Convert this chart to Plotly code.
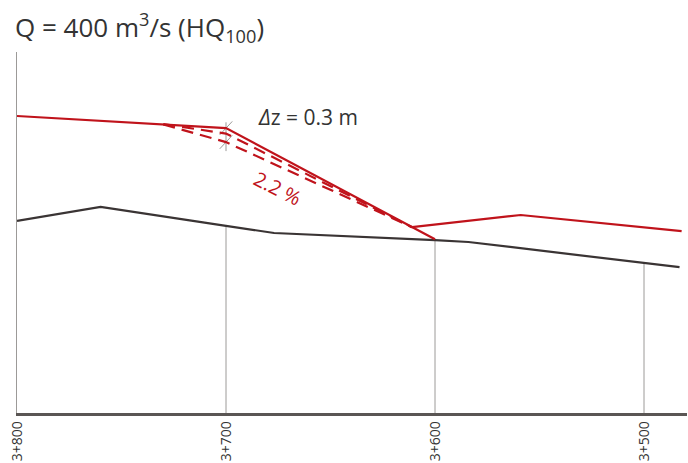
import numpy as np
import plotly.graph_objects as go

# ---- data (chainage in m, elevation in m, relative datum) ----
bed_ch = [3800, 3760, 3700, 3677, 3600, 3584, 3483]
bed_z = [4.27, 4.58, 4.16, 4.00, 3.84, 3.80, 3.24]

ws_up_ch = [3800, 3700, 3600]
ws_up_z = [6.60, 6.33, 3.86]

ws_down_ch = [3611, 3559, 3482]
ws_down_z = [4.13, 4.40, 4.04]

dash1_ch = [3730, 3700, 3611]
dash1_z = [6.42, 6.21, 4.13]

dash2_ch = [3730, 3700, 3611]
dash2_z = [6.41, 6.02, 4.13]

tick_vals = [3800, 3700, 3600, 3500]
tick_text = ["3+800", "3+700", "3+600", "3+500"]

title_text = "Q = 400 m<sup>3</sup>/s (HQ<sub>100</sub>)"
dz_text = "<i>Δ</i>z = 0.3 m"
slope_text = "2.2 %"

RED = "#c0131b"
BED = "#3a3434"
GREY = "#9c9a98"
TXT = "#333333"
FONT = "Open Sans"

fig = go.Figure()

# vertical station lines from axis up to the bed
bx = np.array(bed_ch[::-1], dtype=float)
bz = np.array(bed_z[::-1], dtype=float)
for ch in tick_vals[1:]:
    zb = float(np.interp(ch, bx, bz))
    fig.add_trace(go.Scatter(x=[ch, ch], y=[0, zb], mode="lines",
                             line=dict(color=GREY, width=1), hoverinfo="skip"))

# delta-z marker at 3+700
z_hi = ws_up_z[1]
z_lo = dash2_z[1]
fig.add_trace(go.Scatter(x=[3700, 3700], y=[z_hi + 0.13, z_lo - 0.2], mode="lines",
                         line=dict(color=GREY, width=1), hoverinfo="skip"))
for zc in (z_hi, z_lo):
    fig.add_trace(go.Scatter(x=[3703, 3697], y=[zc - 0.15, zc + 0.15], mode="lines",
                             line=dict(color=GREY, width=1), hoverinfo="skip"))

# bed
fig.add_trace(go.Scatter(x=bed_ch, y=bed_z, mode="lines",
                         line=dict(color=BED, width=2.2), hoverinfo="skip"))
# dashed lowered water levels
for cx, cz in ((dash1_ch, dash1_z), (dash2_ch, dash2_z)):
    fig.add_trace(go.Scatter(x=cx, y=cz, mode="lines",
                             line=dict(color=RED, width=2.2, dash="12px,7px"), hoverinfo="skip"))
# water surface
fig.add_trace(go.Scatter(x=ws_up_ch, y=ws_up_z, mode="lines",
                         line=dict(color=RED, width=2.2), hoverinfo="skip"))
fig.add_trace(go.Scatter(x=ws_down_ch, y=ws_down_z, mode="lines",
                         line=dict(color=RED, width=2.2), hoverinfo="skip"))

fig.add_annotation(x=3661, y=6.58, text=dz_text, showarrow=False,
                   font=dict(size=21, color=TXT, family=FONT),
                   xanchor="center", yanchor="middle")
fig.add_annotation(x=3675, y=5.0, text=slope_text, showarrow=False, textangle=27,
                   font=dict(size=20, color=RED, family=FONT),
                   xanchor="center", yanchor="middle")

fig.update_layout(
    width=688, height=463,
    margin=dict(l=17, r=1, t=52, b=50, autoexpand=False),
    paper_bgcolor="white", plot_bgcolor="white",
    showlegend=False,
    title=dict(text=title_text, x=15 / 688, xanchor="left", xref="container",
               y=1 - 28 / 463, yanchor="middle", yref="container",
               font=dict(size=26, color=TXT, family=FONT)),
    xaxis=dict(range=[3800, 3800 - 670 / 2.09], showgrid=False, zeroline=False,
               showline=True, linecolor="#5a5654", linewidth=2.5,
               tickmode="array", tickvals=tick_vals, ticktext=tick_text,
               tickangle=-90, ticks="", automargin=False,
               tickfont=dict(size=14, color=TXT, family=FONT)),
    yaxis=dict(range=[0, 361 / 45], showgrid=False, zeroline=False,
               showline=True, linecolor=GREY, linewidth=1,
               showticklabels=False, ticks="", automargin=False),
)

fig.write_html("out.html", config={"displayModeBar": False},
               post_script="document.body.style.margin='0';document.body.style.overflow='hidden';")
